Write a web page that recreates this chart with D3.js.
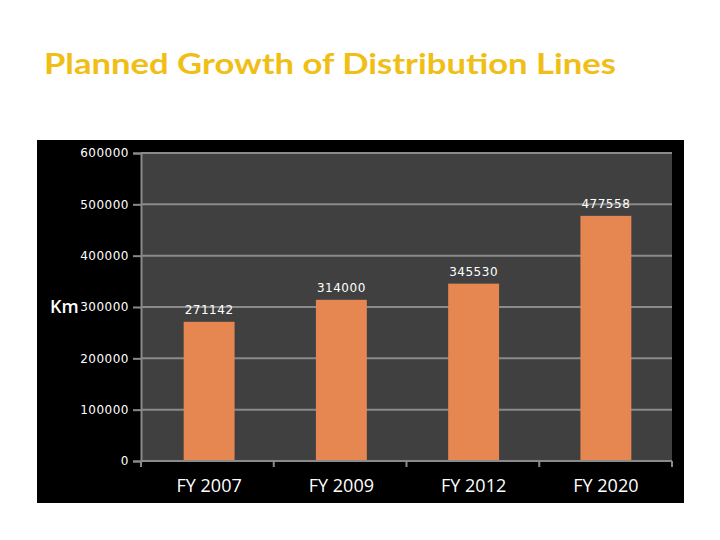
<!DOCTYPE html>
<html><head><meta charset="utf-8">
<script src="https://cdn.jsdelivr.net/npm/d3@7"></script>
<style>body{margin:0;background:#fff}svg{display:block}</style>
</head><body>
<script>
const categories = ["FY 2007", "FY 2009", "FY 2012", "FY 2020"];
const values = [271142, 314000, 345530, 477558];
const yTicks = [0, 100000, 200000, 300000, 400000, 500000, 600000];
const title = "Planned Growth of Distribution Lines";
const yAxisTitle = "Km";

const W = 720, H = 540;
const svg = d3.select("body").append("svg").attr("width", W).attr("height", H);

svg.append("text").attr("x", 44).attr("y", 74)
  .attr("font-family", "Lato, 'Open Sans', sans-serif").attr("font-weight", "bold")
  .attr("font-size", 29).attr("fill", "#F0BE14").text(title)
  .attr("textLength", 572).attr("lengthAdjust", "spacingAndGlyphs");

svg.append("rect").attr("x", 37).attr("y", 140).attr("width", 647).attr("height", 363).attr("fill", "#000");

const m = {l: 141, r: 672, t: 153, b: 461};
const x = d3.scaleBand().domain(categories).range([m.l + 2, m.r]).paddingInner(0.615).paddingOuter(0.3075);
const y = d3.scaleLinear().domain([0, 600000]).range([m.b, m.t]);

svg.append("rect").attr("x", m.l).attr("y", m.t).attr("width", m.r - m.l).attr("height", m.b - m.t).attr("fill", "#404040");

svg.append("g").selectAll("line").data(yTicks.filter(d => d > 0)).join("line")
  .attr("x1", m.l).attr("x2", m.r).attr("y1", d => y(d)).attr("y2", d => y(d))
  .attr("stroke", "#8a8a8a").attr("stroke-width", 2);

svg.append("g").selectAll("rect").data(values).join("rect")
  .attr("x", (d, i) => x(categories[i])).attr("width", x.bandwidth())
  .attr("y", d => y(d)).attr("height", d => y(0) - y(d)).attr("fill", "#E68752");

const yAxis = svg.append("g").attr("transform", `translate(${m.l},0)`)
  .call(d3.axisLeft(y).tickValues(yTicks).tickFormat(d3.format("d")).tickSize(8).tickPadding(4));
yAxis.select(".domain").attr("stroke", "#8a8a8a").attr("stroke-width", 2);
yAxis.selectAll(".tick line").attr("stroke", "#8a8a8a").attr("stroke-width", 2);
yAxis.selectAll(".tick text").attr("fill", "#fff").attr("font-size", 12)
  .attr("font-family", "'DejaVu Sans', sans-serif").attr("letter-spacing", "0.5px");

const band = (m.r - m.l) / categories.length;
const xTickPos = d3.range(categories.length + 1).map(i => m.l + i * band);
svg.append("line").attr("x1", m.l).attr("x2", m.r).attr("y1", m.b).attr("y2", m.b)
  .attr("stroke", "#8a8a8a").attr("stroke-width", 2);
svg.append("g").selectAll("line").data(xTickPos).join("line")
  .attr("x1", d => d).attr("x2", d => d).attr("y1", m.b).attr("y2", m.b + 6)
  .attr("stroke", "#8a8a8a").attr("stroke-width", 2);

svg.append("g").selectAll("text").data(categories).join("text")
  .attr("x", d => x(d) + x.bandwidth() / 2).attr("y", 492).attr("text-anchor", "middle")
  .attr("fill", "#fff").attr("font-size", 18).attr("font-family", "'Open Sans', sans-serif").text(d => d);

svg.append("g").selectAll("text").data(values).join("text")
  .attr("x", (d, i) => x(categories[i]) + x.bandwidth() / 2).attr("y", d => y(d) - 8)
  .attr("text-anchor", "middle").attr("fill", "#fff").attr("font-size", 12)
  .attr("font-family", "'DejaVu Sans', sans-serif").attr("letter-spacing", "0.5px").text(d => d);

svg.append("text").attr("x", 50).attr("y", 313).attr("fill", "#fff").attr("font-weight", "600")
  .attr("font-size", 18).attr("font-family", "'Open Sans', sans-serif").text(yAxisTitle);
</script>
</body></html>
